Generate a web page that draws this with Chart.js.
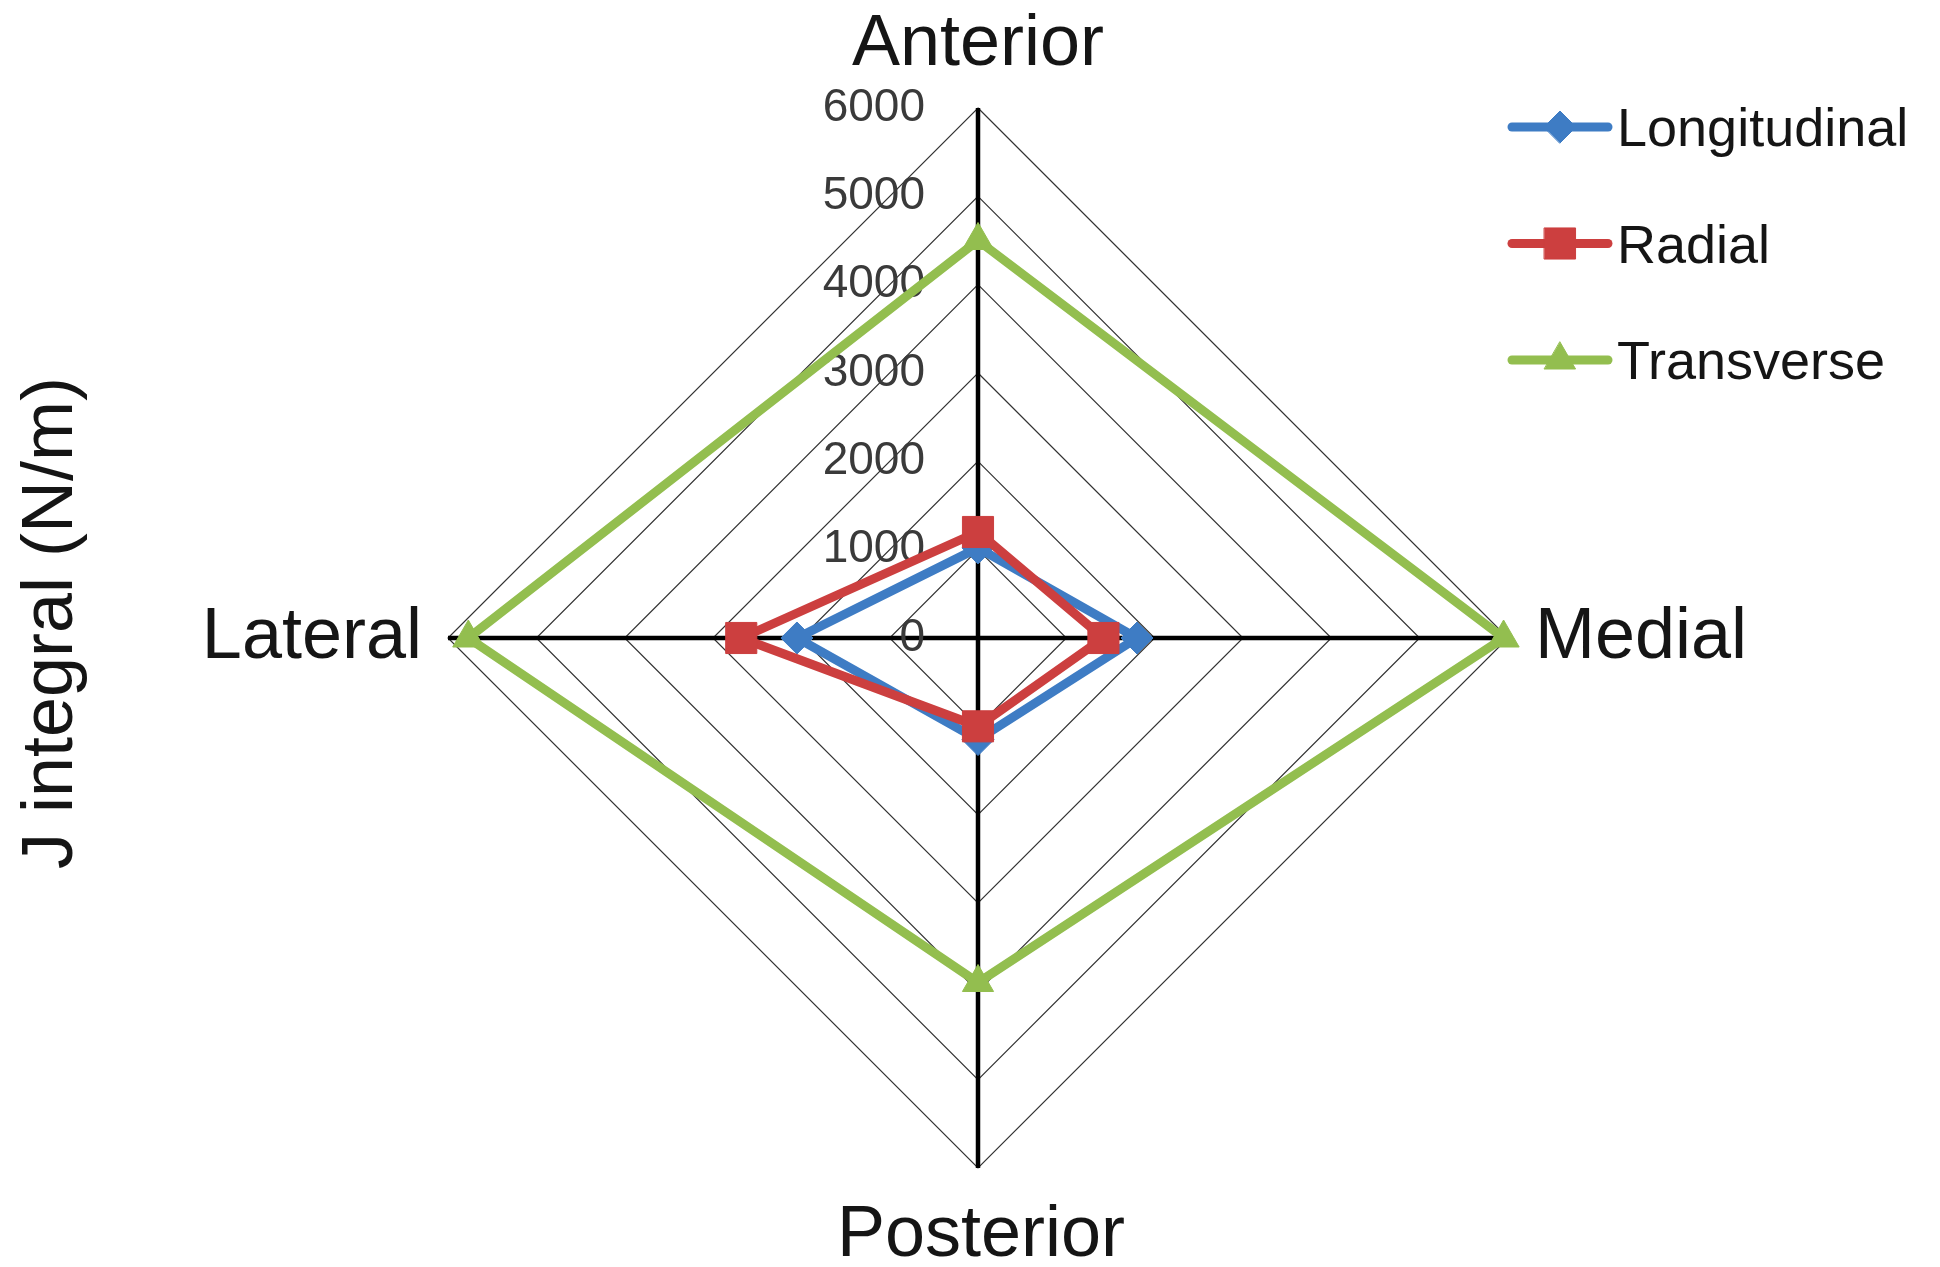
<!DOCTYPE html>
<html>
<head>
<meta charset="utf-8">
<script src="https://cdn.jsdelivr.net/npm/chart.js@4.4.1/dist/chart.umd.min.js"></script>
<style>
html,body{margin:0;padding:0;background:#fff;}
#wrap{position:relative;width:1940px;height:1267px;}
</style>
</head>
<body>
<div id="wrap"><canvas id="c" width="1940" height="1267"></canvas></div>
<script>
// ---- data ----
const categories = ['Anterior', 'Medial', 'Posterior', 'Lateral'];
const seriesNames = ['Longitudinal', 'Radial', 'Transverse'];
const longitudinal = [1020, 1800, 1150, 2050];
const radial = [1200, 1420, 1000, 2680];
const transverse = [4500, 5950, 3900, 5770];
const tickLabels = ['0', '1000', '2000', '3000', '4000', '5000', '6000'];
const axisTitle = 'J integral (N/m)';

// ---- styles ----
const FONT = '"Liberation Sans", Arial, Helvetica, sans-serif';
const colors = ['#3E7CC4', '#CC3F3F', '#93BE4F'];
const pointStyles = ['rectRot', 'rect', 'triangle'];
const pointRadii = [16, 22, 18];
const seriesValues = [longitudinal, radial, transverse];
const drawOrder = [1, 0, 2];

const datasets = seriesNames.map((name, i) => ({
  label: name,
  data: seriesValues[i],
  borderColor: colors[i],
  backgroundColor: colors[i],
  pointBackgroundColor: colors[i],
  pointBorderColor: colors[i],
  pointBorderWidth: 1,
  pointStyle: pointStyles[i],
  pointRadius: pointRadii[i],
  borderWidth: 9,
  fill: false,
  tension: 0,
  order: drawOrder[i]
}));

const textPlugin = {
  id: 'texts',
  beforeDatasetsDraw(chart) {
    const s = chart.scales.r;
    const ctx = chart.ctx;
    ctx.save();
    ctx.font = '46px ' + FONT;
    ctx.fillStyle = '#3a3a3a';
    ctx.textAlign = 'right';
    ctx.textBaseline = 'middle';
    s.ticks.forEach((t, i) => {
      const d = s.getDistanceFromCenterForValue(t.value);
      ctx.fillText(tickLabels[i], s.xCenter - 53, s.yCenter - d);
    });
    ctx.restore();
  },
  afterDraw(chart) {
    const s = chart.scales.r;
    const ctx = chart.ctx;
    ctx.save();
    // point labels
    ctx.font = '72px ' + FONT;
    ctx.fillStyle = '#151515';
    ctx.textBaseline = 'alphabetic';
    const pads = [43, 27, 36, 26];
    categories.forEach((lab, i) => {
      const p = s.getPointPosition(i, s.drawingArea + pads[i]);
      if (i === 0) { ctx.textAlign = 'center'; ctx.fillText(lab, p.x, p.y); }
      else if (i === 2) { ctx.textAlign = 'center'; ctx.fillText(lab, p.x + 3, p.y + 52); }
      else if (i === 1) { ctx.textAlign = 'left'; ctx.fillText(lab, p.x, p.y + 20); }
      else { ctx.textAlign = 'right'; ctx.fillText(lab, p.x, p.y + 20); }
    });
    // axis title
    ctx.save();
    ctx.translate(72, 623);
    ctx.rotate(-Math.PI / 2);
    ctx.textAlign = 'center';
    ctx.fillText(axisTitle, 0, 0);
    ctx.restore();
    // legend
    const lx0 = 1512, lx1 = 1608, ly0 = 127, lstep = 116.5;
    chart.data.datasets.forEach((ds, i) => {
      const y = ly0 + i * lstep;
      ctx.strokeStyle = ds.borderColor;
      ctx.lineWidth = 9;
      ctx.lineCap = 'round';
      ctx.beginPath();
      ctx.moveTo(lx0, y);
      ctx.lineTo(lx1, y);
      ctx.stroke();
      ctx.fillStyle = ds.pointBackgroundColor;
      ctx.strokeStyle = ds.pointBorderColor;
      ctx.lineWidth = 1;
      Chart.helpers.drawPoint(ctx, {pointStyle: ds.pointStyle, radius: ds.pointRadius, rotation: 0, borderWidth: 1}, (lx0 + lx1) / 2, y);
      ctx.fillStyle = '#151515';
      ctx.font = '54px ' + FONT;
      ctx.textAlign = 'left';
      ctx.textBaseline = 'alphabetic';
      ctx.fillText(ds.label, 1617, y + 19);
    });
    ctx.restore();
  }
};

new Chart(document.getElementById('c'), {
  type: 'radar',
  data: { labels: categories, datasets: datasets },
  options: {
    responsive: false,
    animation: false,
    devicePixelRatio: 1,
    events: [],
    plugins: { legend: { display: false }, tooltip: { enabled: false } },
    elements: { line: { tension: 0 } },
    scales: {
      r: {
        min: 0,
        max: 6000,
        ticks: { stepSize: 1000, display: false, callback: (v, i) => tickLabels[i] },
        grid: { color: '#333333', lineWidth: 1.2, circular: false },
        angleLines: { color: '#000000', lineWidth: 4.5 },
        pointLabels: { display: false },
        afterFit: (scale) => {
          scale.xCenter = 978;
          scale.yCenter = 638;
          scale.drawingArea = 530;
        }
      }
    }
  },
  plugins: [textPlugin]
});
</script>
</body>
</html>
